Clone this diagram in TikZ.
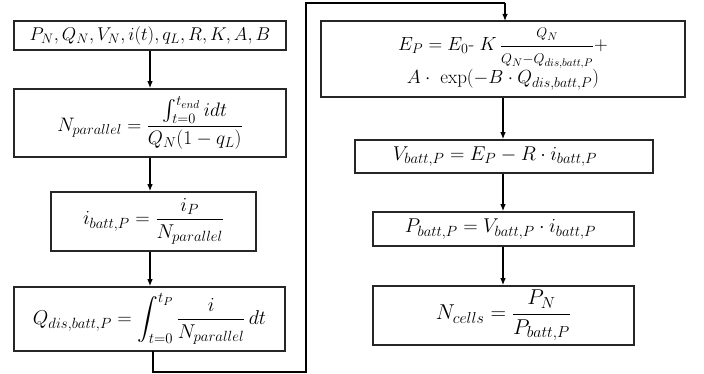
\RequirePackage{fix-cm}
\documentclass[tikz,border=0pt]{standalone}
\usepackage{amsmath}
\renewcommand\defaultscriptratio{.74}
\renewcommand\defaultscriptscriptratio{.58}
\usetikzlibrary{arrows.meta,calc}
\newcommand\fsz[1]{\fontsize{#1}{1.2\dimexpr#1pt\relax}\selectfont}
\begin{document}
\begin{tikzpicture}[x=1pt,y=-1pt,
  box/.style={draw=black!85,line width=1.6pt,rectangle,inner sep=0pt,align=center},
  arr/.style={draw=black,line width=1.2pt,-{Latex[length=7pt,width=5.5pt]}},
  lnk/.style={draw=black,line width=1.2pt}]
\useasboundingbox (0,0) rectangle (704,374);
% left column
\node[box,minimum width=272pt,minimum height=29pt,font=\fsz{18.5}] (b1) at (150,35.5)
  {$P_N, Q_N, V_N, i(t), q_L, R, K, A, B$};
\node[box,minimum width=272pt,minimum height=68pt,font=\fsz{19.5}] (b2) at (150,123)
  {$N_{parallel} = \dfrac{\int_{t=0}^{t_{end}} i dt}{Q_N(1-q_L)}$};
\node[box,minimum width=205pt,minimum height=59pt,font=\fsz{20}] (b3) at (153.5,221.5)
  {$i_{batt,P} = \dfrac{i_P}{N_{parallel}}$};
\node[box,minimum width=271pt,minimum height=64pt,font=\fsz{20}] (b4) at (149.5,319)
  {$Q_{dis,batt,P} = \displaystyle\int_{t=0}^{t_P} \frac{i}{N_{parallel}}\,dt$};
% right column
\node[box,minimum width=364pt,minimum height=76pt,font=\fsz{19}] (b5) at (503,59)
  {$E_P = E_0\text{-}\;K\,\dfrac{\scriptstyle Q_N}{\scriptstyle Q_N - Q_{dis,batt,P}} +$\\[0pt]
   $A\cdot\ \exp(-B\cdot Q_{dis,batt,P})$};
\node[box,minimum width=298pt,minimum height=33pt,font=\fsz{20}] (b6) at (504,156.5)
  {$V_{batt,P} = E_P - R\cdot i_{batt,P}$\hspace{18pt}};
\node[box,minimum width=261pt,minimum height=34pt,font=\fsz{20}] (b7) at (503.5,229)
  {$P_{batt,P} = V_{batt,P}\cdot i_{batt,P}$\hspace{6pt}};
\node[box,minimum width=261pt,minimum height=59pt,font=\fsz{21.5}] (b8) at (503.5,315.5)
  {$N_{cells} = \dfrac{P_N}{P_{batt,P}}$};
% arrows left
\draw[arr] (b1.south) -- (b2.north);
\draw[arr] (b2.south) -- (b2.south |- b3.north);
\draw[arr] (b2.south |- b3.south) -- (b2.south |- b4.north);
% connector
\coordinate (c0) at (153,351);
\coordinate (c1) at (153,372);
\coordinate (c2) at (306,372);
\coordinate (c3) at (306,3);
\coordinate (c4) at (505,3);
\coordinate (c5) at (505,21);
\draw[lnk] (c0) -- (c1) -- (c2) -- (c3) -- (c4);
\draw[arr] (c4) -- (c5);
% arrows right
\coordinate (rx) at (503,0);
\draw[arr] (rx |- b5.south) -- (rx |- b6.north);
\draw[arr] (rx |- b6.south) -- (rx |- b7.north);
\draw[arr] (rx |- b7.south) -- (rx |- b8.north);
\end{tikzpicture}
\end{document}
